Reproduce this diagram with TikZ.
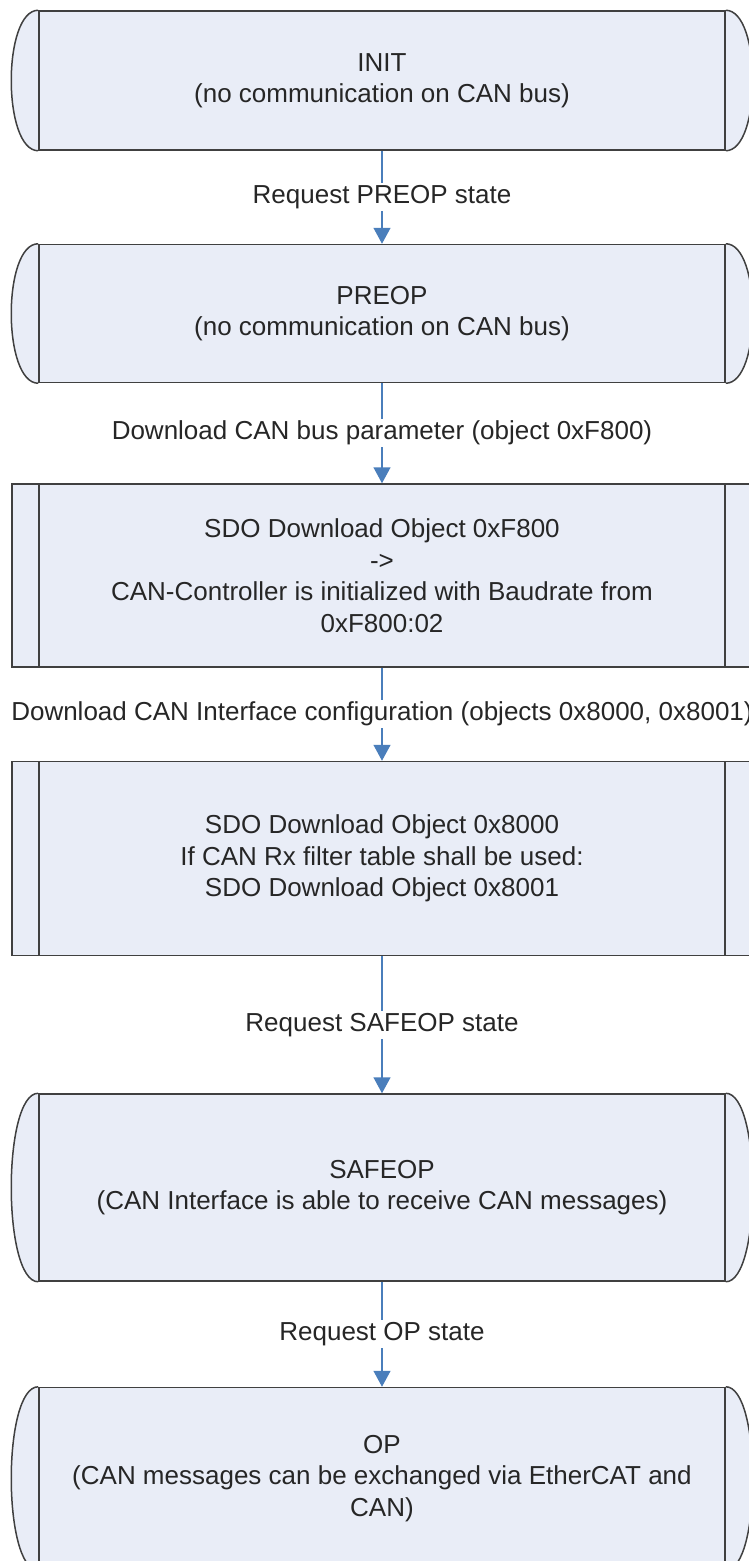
\documentclass[tikz,border=0pt]{standalone}
\usepackage{fontspec}
\setmainfont{Liberation Sans}
\usetikzlibrary{arrows.meta,positioning}
\definecolor{StateFill}{HTML}{E9EDF7}
\definecolor{StateLine}{HTML}{404040}
\definecolor{FlowBlue}{HTML}{4A7EBB}
\definecolor{TextGray}{HTML}{262626}

\begin{document}
\begin{tikzpicture}[
  x=1pt,y=1pt,
  font=\fontsize{26}{31.5}\selectfont,
  text=TextGray,
  state/.style={draw=StateLine,line width=1.5pt,fill=StateFill,minimum width=686pt,inner sep=0pt,align=center},
  sdobox/.style={draw=StateLine,line width=1.5pt,fill=StateFill,minimum width=740pt,inner sep=0pt,align=center,
    path picture={\draw[StateLine,line width=1.5pt]
      ([xshift=27pt]path picture bounding box.north west) -- ([xshift=27pt]path picture bounding box.south west)
      ([xshift=-27pt]path picture bounding box.north east) -- ([xshift=-27pt]path picture bounding box.south east);}},
  arrow/.style={-{Triangle[width=17pt,length=16pt]},line width=1.5pt,draw=FlowBlue},
  lbl/.style={fill=white,inner sep=2pt}
]
\useasboundingbox (0,0) rectangle (748,-1561);
\node[state,minimum height=139pt] (init) at (382,-80.5) {INIT\\(no communication on CAN bus)};
\node[state,minimum height=138pt,below=93pt of init] (preop) {PREOP\\(no communication on CAN bus)};
\node[sdobox,minimum height=183pt,below=100pt of preop] (canpar) {SDO Download Object 0xF800\\->\\CAN-Controller is initialized with Baudrate from\\0xF800:02};
\node[sdobox,minimum height=194pt,below=93pt of canpar] (canif) {SDO Download Object 0x8000\\If CAN Rx filter table shall be used:\\SDO Download Object 0x8001};
\node[state,minimum height=187pt,below=137pt of canif] (safeop) {SAFEOP\\(CAN Interface is able to receive CAN messages)};
\node[state,minimum height=182pt,below=105pt of safeop] (op) {OP\\(CAN messages can be exchanged via EtherCAT and\\CAN)};
% rounded ends of the state boxes
\foreach \n in {init,preop,safeop,op}{
  \draw[StateLine,line width=1.5pt,fill=StateFill] (\n.north west) .. controls +(-36,0) and +(-36,0) .. (\n.south west);
  \draw[StateLine,line width=1.5pt,fill=StateFill] (\n.north east) .. controls +(36,0) and +(36,0) .. (\n.south east);
}
\draw[arrow] (init) -- node[lbl] {Request PREOP state} (preop);
\draw[arrow] (preop) -- node[lbl] {Download CAN bus parameter (object 0xF800)} (canpar);
\draw[arrow] (canpar) -- node[lbl] {Download CAN Interface configuration (objects 0x8000, 0x8001)} (canif);
\draw[arrow] (canif) -- node[lbl] {Request SAFEOP state} (safeop);
\draw[arrow] (safeop) -- node[lbl] {Request OP state} (op);
\end{tikzpicture}
\end{document}
